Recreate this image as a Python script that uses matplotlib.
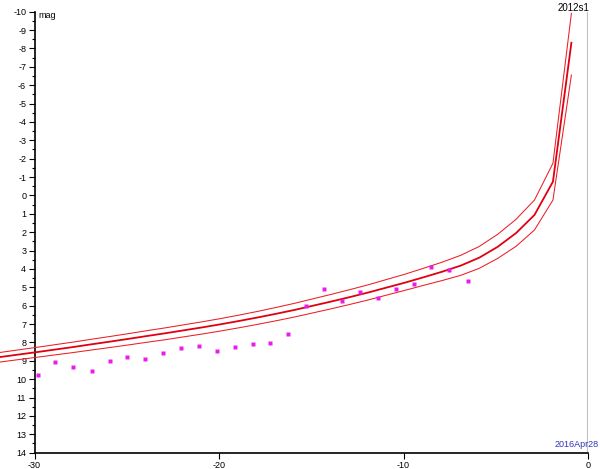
import matplotlib
matplotlib.use("Agg")
import matplotlib.pyplot as plt
from matplotlib.ticker import MultipleLocator

# Days relative to the reference date
days = [-31.9, -30.9, -29.9, -28.9, -27.9, -26.9, -25.9, -24.9, -23.9, -22.9,
        -21.9, -20.9, -19.9, -18.9, -17.9, -16.9, -15.9, -14.9, -13.9, -12.9,
        -11.9, -10.9, -9.9, -8.9, -7.9, -6.9, -5.9, -4.9, -3.9, -2.9, -1.9, -0.9]

mag_center = [8.80, 8.665, 8.53, 8.39, 8.25, 8.10, 7.955, 7.805, 7.65, 7.50,
              7.34, 7.18, 7.01, 6.83, 6.64, 6.44, 6.23, 6.00, 5.77, 5.53,
              5.28, 5.01, 4.74, 4.45, 4.15, 3.82, 3.39, 2.80, 2.05, 1.06, -0.75, -8.31]

mag_upper = [8.55, 8.41, 8.27, 8.125, 7.98, 7.825, 7.675, 7.52, 7.36, 7.205,
             7.04, 6.875, 6.70, 6.51, 6.31, 6.095, 5.87, 5.625, 5.38, 5.125,
             4.86, 4.57, 4.28, 3.96, 3.63, 3.26, 2.78, 2.12, 1.30, 0.25, -1.75, -9.91]

mag_lower = [9.07, 8.94, 8.81, 8.68, 8.55, 8.41, 8.275, 8.135, 7.99, 7.85,
             7.695, 7.54, 7.375, 7.20, 7.015, 6.82, 6.615, 6.39, 6.165, 5.93,
             5.685, 5.42, 5.16, 4.89, 4.63, 4.35, 3.97, 3.43, 2.77, 1.88, 0.25, -6.55]

obs_days = [-29.83, -28.87, -27.9, -26.9, -25.92, -24.97, -23.99, -23.03, -22.04,
            -21.08, -20.11, -19.15, -18.17, -17.22, -16.24, -15.27, -14.31, -13.35,
            -12.36, -11.38, -10.42, -9.45, -8.49, -7.51, -6.52]
obs_mag = [9.77, 9.06, 9.35, 9.55, 8.99, 8.77, 8.90, 8.57, 8.30,
           8.21, 8.47, 8.25, 8.07, 8.03, 7.56, 6.00, 5.11, 5.76,
           5.27, 5.58, 5.11, 4.82, 3.91, 4.07, 4.67]

x_ticks = [-30, -20, -10, 0]
x_tick_labels = ["-30", "-20", "-10", "0"]
y_ticks = list(range(-10, 15))
y_tick_labels = [str(v) for v in y_ticks]

plt.rcParams['font.family'] = ['Liberation Sans', 'DejaVu Sans']

fig = plt.figure(figsize=(6.0, 4.69), dpi=100)
ax = fig.add_axes([0.0575, 0.0348, 0.9225, 0.9403])

ax.set_xlim(-30, 0)
ax.set_ylim(14, -10)

ax.axvline(0, color='#c0c0c0', lw=1.5, zorder=1)

ax.plot(days, mag_upper, color='#ee1c24', lw=0.75, clip_on=False, zorder=3)
ax.plot(days, mag_lower, color='#ee1c24', lw=0.75, clip_on=False, zorder=3)
ax.plot(days, mag_center, color='#e00010', lw=1.3, clip_on=False, zorder=4)
ax.plot(obs_days, obs_mag, linestyle='none', marker='s', ms=2.5,
        color='#e81ee8', mec='none', zorder=5)

for s in ['top', 'right']:
    ax.spines[s].set_visible(False)
for s in ['left', 'bottom']:
    ax.spines[s].set_linewidth(1.2)
    ax.spines[s].set_color('black')

ax.set_xticks(x_ticks)
ax.set_xticklabels(x_tick_labels)
ax.set_yticks(y_ticks)
ax.set_yticklabels(y_tick_labels)
ax.yaxis.set_minor_locator(MultipleLocator(0.5))
ax.tick_params(axis='both', which='major', length=4, width=0.8, labelsize=6.5, pad=2)
ax.tick_params(axis='y', which='minor', length=2, width=0.8)

fig.text(38 / 600, 1 - 15 / 469, "mag", fontsize=6.5, ha='left', va='center')
fig.text(573 / 600, 1 - 8 / 469, "2012s1", fontsize=7, ha='center', va='center')
fig.text(599 / 600, 1 - 444 / 469, "2016Apr28", fontsize=6.5, ha='right', va='center',
         color='#3333bb')

fig.savefig("out.png", dpi=100)
